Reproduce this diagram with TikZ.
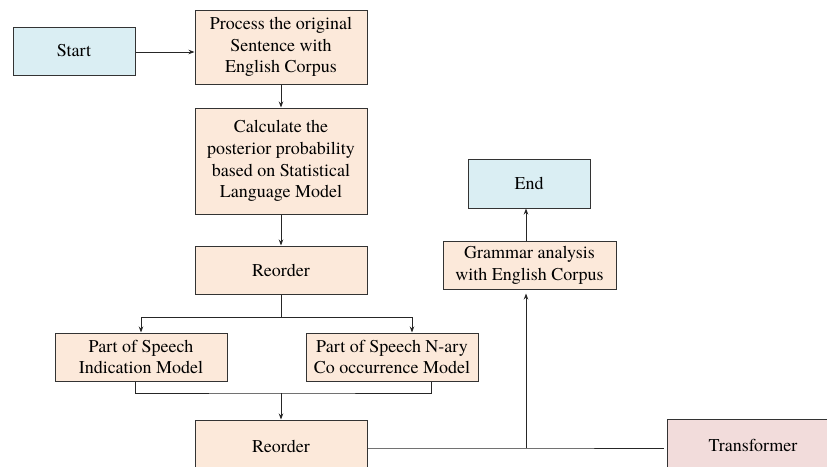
\documentclass[tikz,border=0pt]{standalone}
\usepackage{fontspec}
\setmainfont{texgyretermes}[Extension=.otf, UprightFont=*-regular, BoldFont=*-bold]
\usetikzlibrary{calc, arrows.meta}

\tikzset{
  box/.style={draw=black!80, line width=1pt, minimum width=172pt, minimum height=48pt,
              align=center, inner sep=2pt, font=\fontsize{18}{21.7}\selectfont},
  termbox/.style={box, fill={rgb,255:red,218;green,238;blue,243}, minimum width=122pt},
  workbox/.style={box, fill={rgb,255:red,252;green,233;blue,218}},
  toolbox/.style={box, fill={rgb,255:red,242;green,220;blue,219}, minimum height=52pt},
  link/.style={draw=black!85, line width=1pt},
  arr/.style={link, -{Stealth[length=6pt,width=4.5pt]}}
}

\begin{document}
\begin{tikzpicture}[x=1pt, y=-1pt]
  \useasboundingbox (0,0) rectangle (827,466);
  \clip (0,0) rectangle (827,466);
  % left column
  \node[termbox] (start) at (74,51) {Start};
  \node[workbox, minimum height=74pt] (process) at (281,47) {Process the original\\Sentence with\\English Corpus};
  \node[workbox, minimum height=106pt] (calc) at (281,161) {Calculate the\\posterior probability\\based on Statistical\\Language Model};
  \node[workbox] (reorderA) at (281,270) {Reorder};
  \node[workbox] (posind) at (141,357) {Part of Speech\\Indication Model};
  \node[workbox] (posnary) at (392,357) {Part of Speech N-ary\\Co occurrence Model};
  \node[workbox, minimum height=52pt] (reorderB) at (281,446) {Reorder};
  % right side
  \node[toolbox] (trans) at (753,445) {Transformer};
  \node[workbox, minimum width=173pt] (grammar) at (529.5,265) {Grammar analysis\\with English Corpus};
  \node[termbox, minimum height=49pt] (end) at (529,183.5) {End};

  \coordinate (split) at (281,317);
  \coordinate (join) at (281,393);
  \coordinate (tap) at (526,448);

  \draw[arr] (start.east |- 0,52) -- (process.west |- 0,52);
  \draw[arr] (process) -- (calc);
  \draw[arr] (calc) -- (reorderA);
  \draw[link] (reorderA.south) -- (split);
  \draw[arr] (split) -| (posind.north);
  \draw[arr] (split) -| ($(posnary.north)+(20,0)$);
  \draw[link] ($(posind.south)+(-6,0)$) |- (join) -| ($(posnary.south)+(39,0)$);
  \draw[arr] (join) -- (reorderB.north);
  \draw[link] (reorderB.east |- tap) -- (tap) -- ($(trans.west |- tap)+(-3,0)$);
  \draw[arr] (tap) -- ($(grammar.south -| tap)+(0,4)$);
  \draw[arr] (grammar.north -| tap) -- (end.south -| tap);
\end{tikzpicture}
\end{document}
